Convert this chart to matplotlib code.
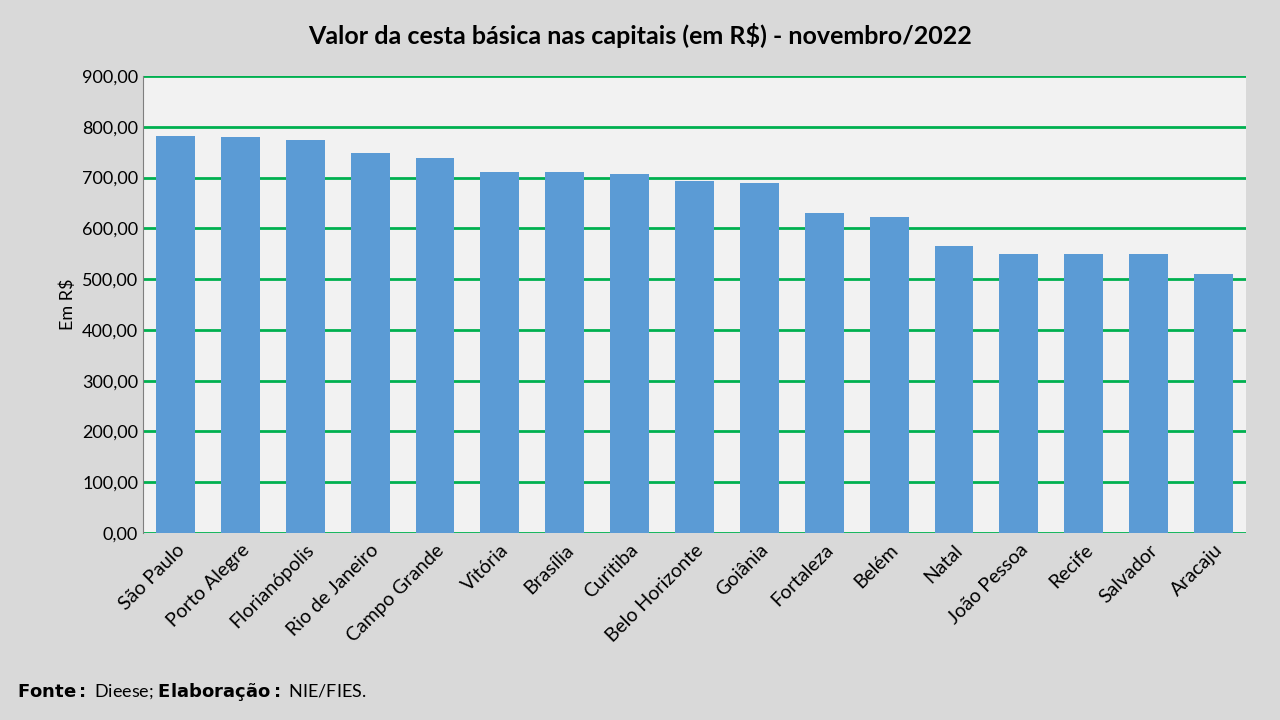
import matplotlib
matplotlib.use("Agg")
import matplotlib.pyplot as plt
from matplotlib.ticker import FuncFormatter

plt.rcParams["font.family"] = ["Lato", "DejaVu Sans"]

cidades = ["São Paulo", "Porto Alegre", "Florianópolis", "Rio de Janeiro", "Campo Grande",
           "Vitória", "Brasília", "Curitiba", "Belo Horizonte", "Goiânia", "Fortaleza",
           "Belém", "Natal", "João Pessoa", "Recife", "Salvador", "Aracaju"]
valores = [781.5, 779.6, 773.6, 748.0, 738.0, 710.6, 710.0, 707.0, 693.0, 689.0,
           630.0, 622.0, 565.0, 549.5, 549.5, 549.5, 510.5]

fig = plt.figure(figsize=(12.8, 7.2), dpi=100, facecolor="#d9d9d9")
ax = fig.add_axes([143/1280, 1-533/720, (1246-143)/1280, (533-76)/720])
ax.set_facecolor("#f2f2f2")

ax.bar(range(len(cidades)), valores, width=0.6, color="#5b9bd5", zorder=3)
ax.set_xlim(-0.5, len(cidades)-0.5)
ax.set_ylim(0, 900)
ax.set_yticks(range(0, 901, 100))
ax.yaxis.set_major_formatter(FuncFormatter(lambda v, p: f"{v:,.2f}".replace(",", "X").replace(".", ",").replace("X", ".")))
ax.grid(axis="y", color="#00b050", linewidth=2, zorder=1)
ax.set_xticks(range(len(cidades)))
ax.set_xticklabels(cidades, rotation=45, ha="right", rotation_mode="anchor", fontsize=14)
ax.tick_params(axis="y", labelsize=13, length=0)
ax.tick_params(axis="x", length=0, pad=6)
for s in ["top", "right", "bottom"]:
    ax.spines[s].set_visible(False)
ax.spines["left"].set_color("#7f7f7f")
ax.set_ylabel("Em R$", fontsize=13)

fig.text(0.5, 1-36/720, "Valor da cesta básica nas capitais (em R$) - novembro/2022",
         ha="center", va="center", fontsize=18, fontweight="bold")
fig.text(17/1280, 1-692/720, r"$\bf{Fonte:}$ Dieese; $\bf{Elaboração:}$ NIE/FIES.",
         ha="left", va="center", fontsize=13)

fig.savefig("out.png", dpi=100, facecolor=fig.get_facecolor())
